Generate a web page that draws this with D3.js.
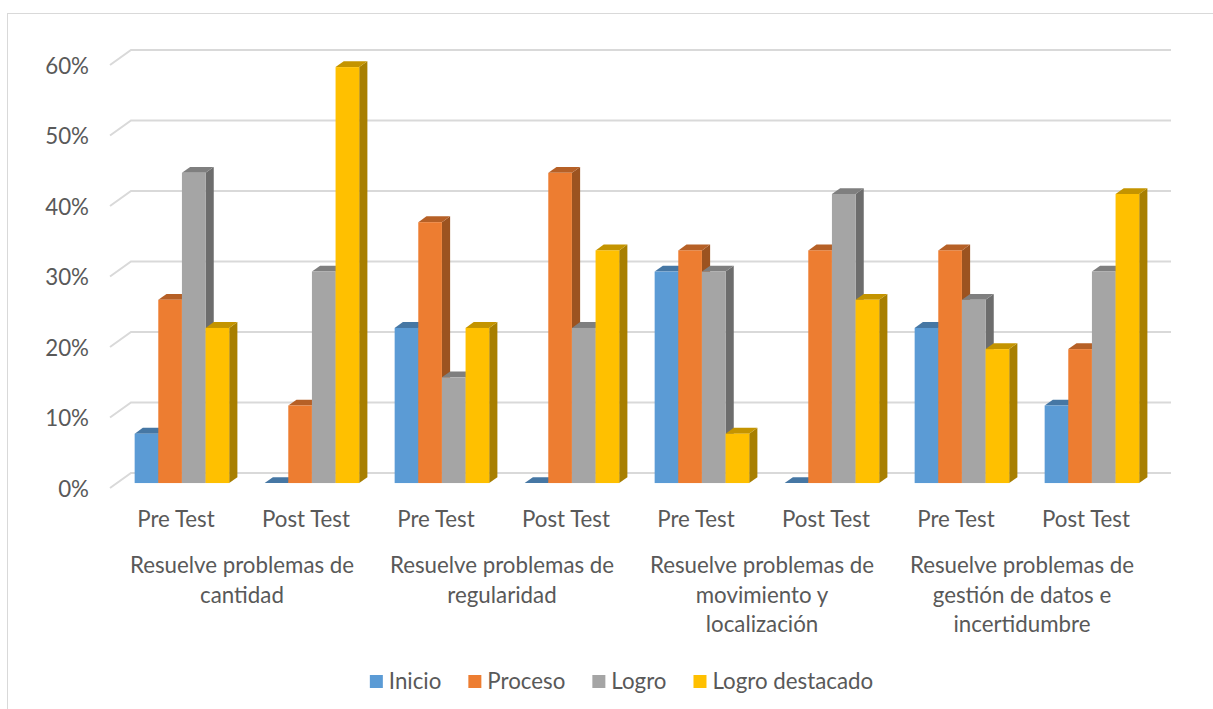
<!DOCTYPE html>
<html>
<head>
<meta charset="utf-8">
<script src="https://cdn.jsdelivr.net/npm/d3@7"></script>
<style>
  html, body { margin: 0; padding: 0; background: #fff; }
  svg { display: block; }
  text { font-family: "Lato", "Open Sans", sans-serif; fill: #595959; font-size: 22.3px; }
</style>
</head>
<body>
<svg id="chart" width="1213" height="709"></svg>
<script>
// Categories: two test moments inside each competence group
const groupLines = [
  ["Resuelve problemas de", "cantidad"],
  ["Resuelve problemas de", "regularidad"],
  ["Resuelve problemas de", "movimiento y", "localización"],
  ["Resuelve problemas de", "gestión de datos e", "incertidumbre"]
];
const phases = ["Pre Test", "Post Test"];

// Series (percent of students)
const seriesNames = ["Inicio", "Proceso", "Logro", "Logro destacado"];
const inicio         = [7, 0, 22, 0, 30, 0, 22, 11];
const proceso        = [26, 11, 37, 44, 33, 33, 33, 19];
const logro          = [44, 30, 15, 22, 30, 41, 26, 30];
const logroDestacado = [22, 59, 22, 33, 7, 26, 19, 41];

const yTicks = [0, 10, 20, 30, 40, 50, 60];

const seriesColors = ["#5B9BD5", "#ED7D31", "#A5A5A5", "#FFC000"];

const seriesValues = [inicio, proceso, logro, logroDestacado];
const categories = d3.range(groupLines.length * phases.length);

const svg = d3.select("#chart");

// chart area border
svg.append("rect")
  .attr("x", 7.5).attr("y", 13.5)
  .attr("width", 1300).attr("height", 800)
  .attr("fill", "none").attr("stroke", "#d9d9d9").attr("stroke-width", 1);

// 3D frame: front plane, depth vector towards the back wall
const depth = { dx: 21, dy: -15 };
const barFront = 0.33, barBack = 0.72;

const x = d3.scaleBand().domain(categories).range([110, 1150]).paddingInner(0).paddingOuter(0);
const xs = d3.scaleBand().domain(d3.range(seriesNames.length)).range([0, x.bandwidth()])
  .paddingInner(0).paddingOuter(0.75);
const y = d3.scaleLinear().domain([0, 60]).range([488, 65]);

const shade = (c, k) => { const r = d3.rgb(c); return d3.rgb(r.r * k, r.g * k, r.b * k).formatHex(); };

// gridlines on the back wall and side wall
const grid = svg.append("g").attr("stroke", "#d9d9d9").attr("stroke-width", 2).attr("fill", "none");
yTicks.forEach(t => {
  const yf = y(t), yb = y(t) + depth.dy;
  const x0 = x.range()[0], x1 = x.range()[1];
  grid.append("path")
    .attr("d", `M${x0},${yf}L${x0 + depth.dx},${yb}L${x1 + depth.dx},${yb}`);
});

// y-axis labels
svg.append("g").selectAll("text").data(yTicks).join("text")
  .attr("x", 89).attr("y", d => y(d) + 8.5)
  .attr("text-anchor", "end")
  .text(d => d + "%");

// bars, left to right so each front face hides its neighbour's side
const bars = svg.append("g");
const fx = depth.dx * barFront, fy = depth.dy * barFront;
const bx = depth.dx * (barBack - barFront), by = depth.dy * (barBack - barFront);
categories.forEach(ci => {
  seriesValues.forEach((vals, si) => {
    const v = vals[ci];
    const col = seriesColors[si];
    const x0 = x(ci) + xs(si) + fx, x1 = x0 + xs.bandwidth();
    const yb = y(0) + fy, yt = y(v) + fy;
    const g = bars.append("g");
    if (v > 0) {
      g.append("path").attr("fill", shade(col, 0.66))
        .attr("d", `M${x1},${yt}L${x1 + bx},${yt + by}L${x1 + bx},${yb + by}L${x1},${yb}Z`);
    }
    g.append("path").attr("fill", shade(col, 0.77))
      .attr("d", `M${x0},${yt}L${x0 + bx},${yt + by}L${x1 + bx},${yt + by}L${x1},${yt}Z`);
    if (v > 0) {
      g.append("rect").attr("fill", col)
        .attr("x", x0).attr("y", yt).attr("width", x1 - x0).attr("height", yb - yt);
    }
  });
});

// category labels
svg.append("g").selectAll("text").data(categories).join("text")
  .attr("x", d => x(d) + x.bandwidth() / 2 + 1)
  .attr("y", 527)
  .attr("text-anchor", "middle")
  .text(d => phases[d % phases.length]);

// group labels
const gl = svg.append("g");
groupLines.forEach((lines, gi) => {
  const cx = x(gi * 2) + x.bandwidth() + 2;
  lines.forEach((ln, li) => {
    gl.append("text")
      .attr("x", cx).attr("y", 573 + li * 29.5)
      .attr("text-anchor", "middle")
      .text(ln);
  });
});

// legend
const legend = svg.append("g");
let lx = 0;
seriesNames.forEach((name, i) => {
  const it = legend.append("g").attr("transform", `translate(${lx},0)`);
  it.append("rect").attr("x", 0).attr("y", 675).attr("width", 13).attr("height", 13).attr("fill", seriesColors[i]);
  const t = it.append("text").attr("x", 19).attr("y", 689).text(name);
  const w = t.node().getComputedTextLength();
  lx += 19 + w + 27;
});
const totalW = lx - 27;
legend.attr("transform", `translate(${621.5 - totalW / 2},0)`);
</script>
</body>
</html>
